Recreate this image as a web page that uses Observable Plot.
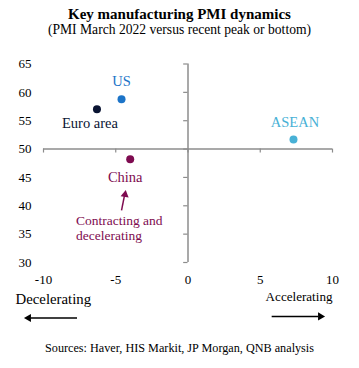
<!DOCTYPE html>
<html>
<head>
<meta charset="utf-8">
<script src="https://cdn.jsdelivr.net/npm/d3@7"></script>
<script src="https://cdn.jsdelivr.net/npm/@observablehq/plot@0.6"></script>
<style>
  html, body { margin: 0; padding: 0; background: #fff; }
  #wrap { width: 359px; height: 368px; font-family: "Liberation Serif", "Times New Roman", serif; color: #000; }
  #title { height: 44px; text-align: center; }
  #t1 { font-weight: bold; font-size: 15px; line-height: 15px; padding-top: 7px; }
  #t2 { font-size: 13.6px; line-height: 16px; }
  #src { text-align: center; font-size: 12.2px; line-height: 14px; margin-top: 13px; }
  svg { display: block; }
  #chart svg, #chart svg text { font-family: "Liberation Serif", "Times New Roman", serif !important; }
</style>
</head>
<body>
<div id="wrap">
  <div id="title">
    <div id="t1">Key manufacturing PMI dynamics</div>
    <div id="t2">(PMI March 2022 versus recent peak or bottom)</div>
  </div>
  <div id="chart"></div>
  <div id="src">Sources: Haver, HIS Markit, JP Morgan, QNB analysis</div>
</div>
<script>
// Data
const regions = ["US", "Euro area", "China", "ASEAN"];
const momentum = [-4.6, -6.3, -4.0, 7.3];   // x: change vs recent peak/bottom
const pmi = [58.8, 57.0, 48.2, 51.7];       // y: PMI March 2022
const colors = ["#1c74c8", "#0a1433", "#7e0b50", "#48b1d6"];
const labelDx = [0, -7, -5, 1.5];
const labelDy = [-18, 14, 18, -17];
const xTicks = [-10, -5, 0, 5, 10];
const yTicks = [30, 35, 40, 45, 50, 55, 60, 65];

const points = regions.map((r, i) => ({region: r, x: momentum[i], y: pmi[i], color: colors[i], dx: labelDx[i], dy: labelDy[i]}));

const serif = "Liberation Serif, Times New Roman, serif";
const axisColor = "#8c8c8c";

// Annotation arrows (data units)
const chinaArrow = [{x1: -4.6, y1: 39.2, x2: -4.38, y2: 42.0, tipX: -4.36, tipY: 42.8}];
const leftArrow = [{x1: -7.68, x2: -10.9, y: 20.2, tip: -11.35}];
const rightArrow = [{x1: 5.79, x2: 9.0, y: 20.5, tip: 9.48}];

const chart = Plot.plot({
  width: 359,
  height: 284,
  marginLeft: 43,
  marginRight: 27,
  marginTop: 19.5,
  marginBottom: 66,
  style: {fontFamily: serif, background: "#fff", overflow: "visible"},
  x: {domain: [-10, 10], axis: null},
  y: {domain: [30, 65], axis: null},
  marks: [
    // axis lines through origin
    Plot.ruleX([0], {y1: 30, y2: 65, stroke: axisColor, strokeWidth: 1.5}),
    Plot.ruleY([50], {x1: -10, x2: 10, stroke: axisColor, strokeWidth: 1.5}),
    // ticks on y axis (pointing left)
    Plot.ruleY(yTicks, {x1: -0.3, x2: 0, stroke: axisColor, strokeWidth: 1.2}),
    // ticks on x axis (pointing down)
    Plot.ruleX(xTicks, {y1: 49.3, y2: 50, stroke: axisColor, strokeWidth: 1.2}),
    // tick labels
    Plot.text(yTicks, {y: d => d, frameAnchor: "left", text: d => String(d), textAnchor: "end", dx: -12, fontSize: 13, fill: "#000", fontFamily: serif}),
    Plot.text(xTicks, {x: d => d, frameAnchor: "bottom", lineAnchor: "middle", text: d => String(d), dy: 17, fontSize: 13, fill: "#000", fontFamily: serif}),
    // dots
    Plot.dot(points, {x: "x", y: "y", r: 4, fill: "color", stroke: null}),
    // labels
    ...points.map(p => Plot.text([p], {x: "x", y: "y", text: "region", fill: p.color, fontSize: 14.5, dx: p.dx, dy: p.dy, fontFamily: serif})),
    // China annotation
    Plot.link(chinaArrow, {x1: "x1", y1: "y1", x2: "x2", y2: "y2", stroke: "#7e0b50", strokeWidth: 1.5}),
    Plot.dot(chinaArrow, {x: "tipX", y: "tipY", symbol: "triangle", r: 3, fill: "#7e0b50", stroke: null, rotate: 9, dy: 4.6}),
    Plot.text(["Contracting and\ndecelerating"], {x: -7.75, y: 38.5, text: d => d, textAnchor: "start", lineAnchor: "top", lineHeight: 1.13, fontSize: 13.5, fill: "#7e0b50", fontFamily: serif}),
    // bottom direction annotations
    Plot.text(["Decelerating"], {frameAnchor: "bottom-left", lineAnchor: "middle", text: d => d, textAnchor: "start", dx: -28, dy: 36.5, fontSize: 14.8, fill: "#000", fontFamily: serif}),
    Plot.text(["Accelerating"], {frameAnchor: "bottom-right", lineAnchor: "middle", text: d => d, textAnchor: "end", dy: 34.5, fontSize: 13.1, fill: "#000", fontFamily: serif}),
    Plot.link(leftArrow, {x1: "x1", x2: "x2", y1: "y", y2: "y", stroke: "#000", strokeWidth: 1.5}),
    Plot.dot(leftArrow, {x: "tip", y: "y", symbol: "triangle", r: 3, fill: "#000", stroke: null, rotate: -90, dx: 4.6}),
    Plot.link(rightArrow, {x1: "x1", x2: "x2", y1: "y", y2: "y", stroke: "#000", strokeWidth: 1.5}),
    Plot.dot(rightArrow, {x: "tip", y: "y", symbol: "triangle", r: 3, fill: "#000", stroke: null, rotate: 90, dx: -4.6})
  ]
});
document.getElementById("chart").appendChild(chart);
</script>
</body>
</html>
